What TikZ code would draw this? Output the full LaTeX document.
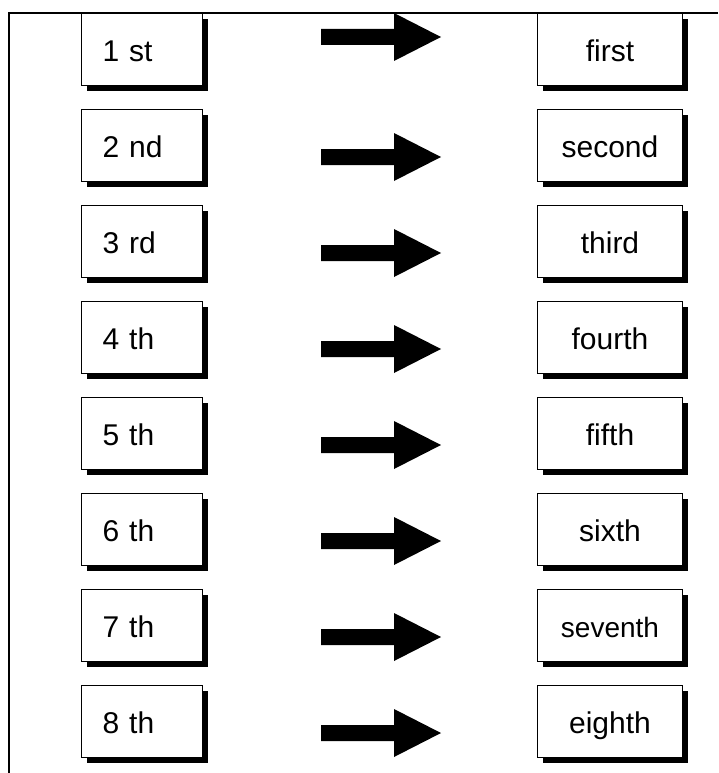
\documentclass[tikz,border=0pt]{standalone}
\usepackage{fontspec}
\setmainfont{Liberation Sans}
\usetikzlibrary{shadows}
\begin{document}
\begin{tikzpicture}[x=1pt,y=-1pt,
  shadowbox/.style={draw=black, line width=1pt, fill=white,
    drop shadow={shadow xshift=5.5pt, shadow yshift=-5.5pt, opacity=1, fill=black},
    minimum height=72pt, text height=24pt, text depth=0pt, inner ysep=0pt,
    anchor=north west, font=\fontsize{30}{36}\selectfont},
  leftbox/.style={shadowbox, text width=79pt, inner xsep=21pt, align=left},
  rightbox/.style={shadowbox, minimum width=145pt, inner xsep=0pt},
  blockarrow/.style={fill=black},
  frameline/.style={line width=1.5pt}]
\useasboundingbox (0,0) rectangle (718,773);
\fill[white] (0,0) rectangle (718,773);
% boxes
\foreach \i/\a/\b [count=\k from 0] in {1/1 st/first,2/2 nd/second,3/3 rd/third,4/4 th/fourth,5/5 th/fifth,6/6 th/sixth,7/7 th/seventh,8/8 th/eighth}{
  \pgfmathsetmacro{\t}{13+96*\k}
  \node[leftbox] (L\i) at (81,\t) {\a};
}
\foreach \i/\b [count=\k from 0] in {1/first,2/second,3/third,4/fourth,5/fifth,6/sixth,8/eighth}{
  \pgfmathsetmacro{\t}{13+96*\k}
  \ifnum\i=8 \pgfmathsetmacro{\t}{13+96*7}\fi
  \node[rightbox] (R\i) at (537,\t) {\b};
}
\node[rightbox, font=\fontsize{28}{34}\selectfont] (R7) at (537,589) {seventh};
% arrows
\foreach \c in {37,157,253,349,445,541,637,733}{
  \fill[blockarrow] (321,\c-8) -- (394,\c-8) -- (394,\c-24) -- (441,\c) -- (394,\c+24) -- (394,\c+8) -- (321,\c+8) -- cycle;
}
% frame
\coordinate (fTL) at (9,13);
\coordinate (fTR) at (718,13);
\coordinate (fBL) at (9,773);
\draw[frameline] (fTR) -- (fTL) -- (fBL);
\end{tikzpicture}
\end{document}
